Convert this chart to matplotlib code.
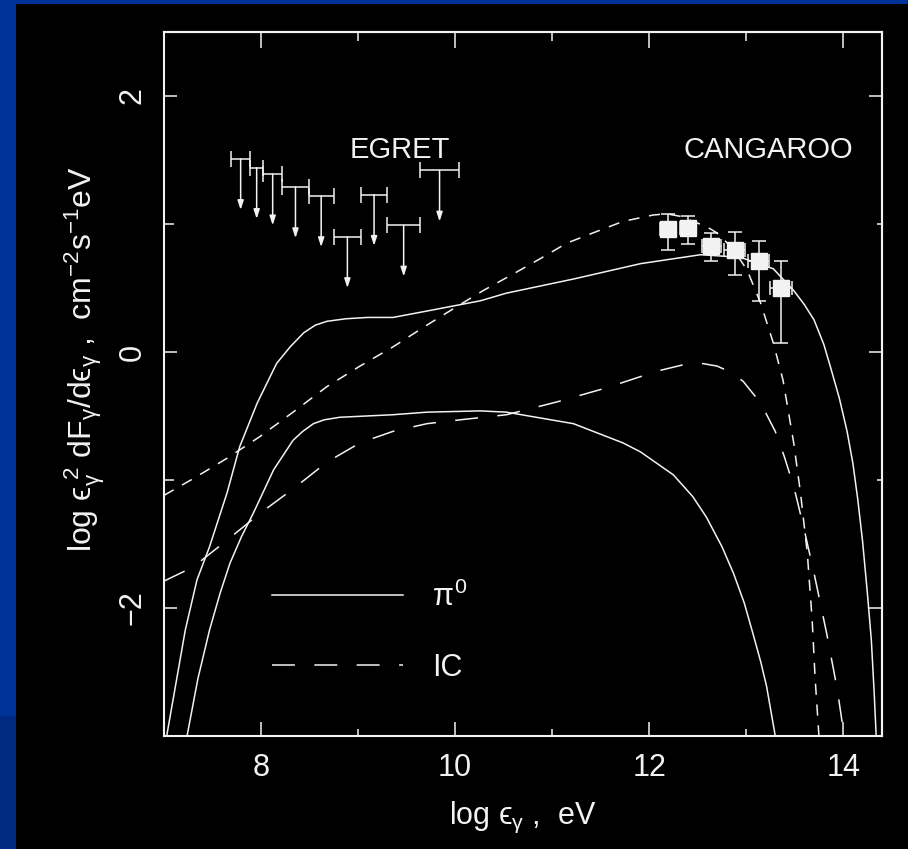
import matplotlib
matplotlib.use("Agg")
import matplotlib.pyplot as plt
from matplotlib.lines import Line2D
from matplotlib.patches import Rectangle
from matplotlib.ticker import MultipleLocator, FixedLocator

FONT = ['Liberation Sans', 'DejaVu Sans']
plt.rcParams['font.family'] = FONT
plt.rcParams['mathtext.fontset'] = 'custom'
plt.rcParams['mathtext.rm'] = 'Liberation Sans'
plt.rcParams['mathtext.it'] = 'Liberation Sans'
plt.rcParams['mathtext.sf'] = 'Liberation Sans'
plt.rcParams['lines.scale_dashes'] = False

FG = '#f2f2f2'

# --- model curves (log eps, log eps^2 dF/deps) ---
pi_hi_x = [7.03, 7.22, 7.34, 7.47, 7.65, 7.78, 7.96, 8.16, 8.30, 8.44, 8.56, 8.68, 8.88, 9.10, 9.36,
           9.71, 10.26, 10.53, 11.22, 11.91, 12.53, 12.94, 13.28, 13.49, 13.60, 13.70, 13.80, 13.87,
           13.96, 14.04, 14.10, 14.15, 14.20, 14.25, 14.29, 14.32, 14.34]
pi_hi_y = [-2.99, -2.17, -1.78, -1.52, -1.10, -0.74, -0.40, -0.09, 0.04, 0.15, 0.21, 0.24, 0.26, 0.27, 0.27,
           0.32, 0.40, 0.46, 0.57, 0.69, 0.76, 0.74, 0.65, 0.48, 0.37, 0.25, 0.06, -0.12,
           -0.36, -0.62, -0.87, -1.15, -1.48, -1.89, -2.25, -2.67, -3.0]

pi_lo_x = [7.24, 7.35, 7.47, 7.58, 7.68, 7.80, 7.92, 8.13, 8.33, 8.43, 8.54, 8.65, 8.81, 9.36, 9.71,
           10.26, 10.53, 11.22, 11.73, 11.91, 12.25, 12.45, 12.59, 12.75, 12.87, 12.98, 13.07, 13.15,
           13.21, 13.30]
pi_lo_y = [-2.99, -2.55, -2.17, -1.88, -1.65, -1.44, -1.26, -0.92, -0.69, -0.62, -0.56, -0.53, -0.51, -0.49, -0.47,
           -0.46, -0.47, -0.56, -0.71, -0.78, -0.96, -1.13, -1.29, -1.52, -1.73, -1.96, -2.20, -2.42,
           -2.61, -3.0]

ic_a_x = [7.0, 7.30, 7.65, 7.99, 8.33, 8.68, 9.02, 9.36, 9.71, 10.05, 10.29, 10.60, 10.88, 11.15, 11.42,
          11.73, 12.04, 12.18, 12.32, 12.59, 12.70, 12.86, 13.01, 13.15, 13.28, 13.38, 13.49, 13.56, 13.63,
          13.68, 13.71, 13.75]
ic_a_y = [-1.12, -0.99, -0.83, -0.66, -0.47, -0.27, -0.11, 0.04, 0.21, 0.37, 0.48, 0.61, 0.73, 0.85, 0.93,
          1.02, 1.07, 1.08, 1.06, 0.98, 0.93, 0.81, 0.64, 0.38, 0.07, -0.22, -0.71, -1.10, -1.57,
          -2.09, -2.54, -3.0]

ic_b_x = [7.0, 7.30, 7.65, 7.99, 8.33, 8.68, 9.02, 9.36, 9.71, 10.05, 10.53, 11.05, 11.56, 12.08, 12.35,
          12.55, 12.70, 12.85, 12.97, 13.15, 13.30, 13.39, 13.49, 13.59, 13.70, 13.83, 13.94, 14.01]
ic_b_y = [-1.79, -1.68, -1.47, -1.26, -1.07, -0.86, -0.71, -0.62, -0.56, -0.53, -0.49, -0.39, -0.28, -0.15, -0.10,
          -0.09, -0.11, -0.16, -0.23, -0.40, -0.62, -0.81, -1.05, -1.36, -1.73, -2.20, -2.64, -3.0]

# --- EGRET upper limits ---
egret_x = [7.79, 7.955, 8.12, 8.355, 8.62, 8.89, 9.165, 9.47, 9.84]
egret_dx = [0.10, 0.065, 0.10, 0.135, 0.13, 0.14, 0.135, 0.17, 0.20]
egret_y = [1.51, 1.44, 1.39, 1.29, 1.22, 0.90, 1.23, 0.99, 1.42]
egret_drop = 0.40

# --- CANGAROO points ---
cang_x = [12.19, 12.40, 12.64, 12.88, 13.13, 13.36]
cang_y = [0.96, 0.97, 0.83, 0.80, 0.71, 0.50]
cang_dx = [0.08, 0.085, 0.10, 0.11, 0.11, 0.11]
cang_up = [0.12, 0.09, 0.10, 0.14, 0.16, 0.21]
cang_dn = [0.16, 0.13, 0.12, 0.20, 0.31, 0.43]

fig = plt.figure(figsize=(9.08, 8.49), dpi=100)
fig.patch.set_facecolor('#003399')
fig.patches.append(Rectangle((16 / 908, 0), 1, 1 - 4 / 849, transform=fig.transFigure,
                             facecolor='black', edgecolor='none', zorder=-10))
fig.patches.append(Rectangle((0, 0), 16 / 908, 133 / 849, transform=fig.transFigure,
                             facecolor='#002a82', edgecolor='none', zorder=-10))

ax = fig.add_axes([164 / 908, 1 - 736 / 849, 718 / 908, 704 / 849])
ax.set_facecolor('black')
ax.set_xlim(7.0, 14.4)
ax.set_ylim(-3.0, 2.5)

lw = 1.1
ax.plot(pi_hi_x, pi_hi_y, color=FG, lw=lw)
ax.plot(pi_lo_x, pi_lo_y, color=FG, lw=lw)
ax.plot(ic_a_x, ic_a_y, color=FG, lw=lw, linestyle=(0, (8, 7)))
ax.plot(ic_b_x, ic_b_y, color=FG, lw=lw, linestyle=(0, (16.5, 14)))

ax.errorbar(egret_x, egret_y, xerr=egret_dx, fmt='none', ecolor=FG, elinewidth=lw,
            capsize=6, capthick=lw)
for x, y in zip(egret_x, egret_y):
    ax.annotate('', xy=(x, y - egret_drop), xytext=(x, y),
                arrowprops=dict(arrowstyle='-|>,head_length=0.55,head_width=0.18',
                                color=FG, lw=lw, shrinkA=0, shrinkB=0))

ax.errorbar(cang_x, cang_y, xerr=cang_dx, yerr=[cang_dn, cang_up], fmt='s', color=FG,
            ms=11, mec=FG, ecolor=FG, elinewidth=lw, capsize=5, capthick=lw, zorder=5)

ax.text(9.43, 1.58, 'EGRET', color=FG, fontsize=21, ha='center', va='center')
ax.text(13.23, 1.58, 'CANGAROO', color=FG, fontsize=21, ha='center', va='center')

handles = [Line2D([], [], color=FG, lw=lw),
           Line2D([], [], color=FG, lw=lw, linestyle=(0, (16.5, 14)))]
leg = ax.legend(handles, [r'$\pi^0$', 'IC'], loc='center left', bbox_to_anchor=(8.11, -2.19),
                bbox_transform=ax.transData, frameon=False, fontsize=22, handlelength=4.3,
                handletextpad=0.95, labelspacing=1.3, borderpad=0, borderaxespad=0)
for t in leg.get_texts():
    t.set_color(FG)

# spines and ticks
for s in ax.spines.values():
    s.set_color(FG)
    s.set_linewidth(1.5)
ax.xaxis.set_major_locator(FixedLocator([8, 10, 12, 14]))
ax.xaxis.set_minor_locator(MultipleLocator(1))
ax.yaxis.set_major_locator(FixedLocator([-2, 0, 2]))
ax.yaxis.set_minor_locator(MultipleLocator(1))
ax.tick_params(which='both', direction='in', colors=FG, width=1.1, labelsize=22)
ax.tick_params(axis='x', which='major', length=10, pad=12)
ax.tick_params(axis='x', which='minor', length=5)
ax.tick_params(axis='y', which='major', length=9.4, pad=12, labelrotation=90)
ax.tick_params(axis='y', which='minor', length=7)
for lab in ax.get_yticklabels():
    lab.set_va('center')

top = ax.secondary_xaxis('top')
top.xaxis.set_major_locator(FixedLocator([8, 10, 12, 14]))
top.xaxis.set_minor_locator(MultipleLocator(1))
top.tick_params(which='both', direction='in', colors=FG, width=1.1, labeltop=False)
top.tick_params(which='major', length=11.5)
top.tick_params(which='minor', length=6.5)
top.spines['top'].set_color(FG)
top.spines['top'].set_linewidth(1.5)

right = ax.secondary_yaxis('right')
right.yaxis.set_major_locator(FixedLocator([-2, 0, 2]))
right.yaxis.set_minor_locator(MultipleLocator(1))
right.tick_params(which='both', direction='in', colors=FG, width=1.1, labelright=False)
right.tick_params(which='major', length=9.4)
right.tick_params(which='minor', length=3.6)
right.spines['right'].set_color(FG)
right.spines['right'].set_linewidth(1.5)

ax.set_xlabel(r'log ϵ${}_{\gamma}$ ,  eV', color=FG, fontsize=22)
ax.xaxis.set_label_coords(0.5, -0.091)
ax.set_ylabel(r'log ϵ${}_{\gamma}^{\ 2}$ dF${}_{\gamma}$/dϵ${}_{\gamma}$ ,  cm$^{-2}$s$^{-1}$eV',
              color=FG, fontsize=23)
ax.yaxis.set_label_coords(-0.079, 0.535)

fig.savefig('out.png', dpi=100, facecolor=fig.get_facecolor())
